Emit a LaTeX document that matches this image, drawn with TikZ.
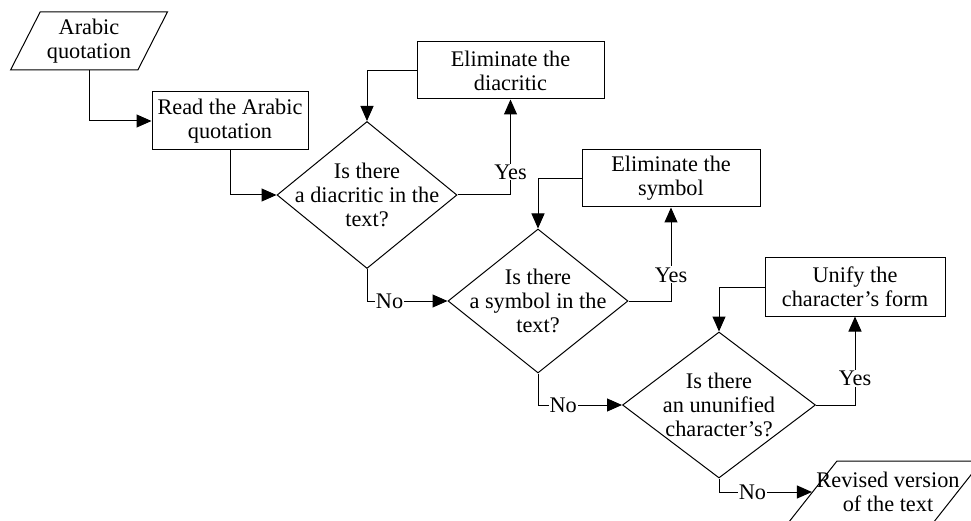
\documentclass[tikz,border=0pt]{standalone}
\usepackage{fontspec}
\setmainfont{Liberation Serif}
\usetikzlibrary{shapes.geometric,arrows.meta}

\tikzset{
  every node/.style={font=\fontsize{22.3}{24}\selectfont, align=center, inner sep=0pt},
  flow/.style={draw=black, line width=1pt, -{Triangle[length=15pt,width=13pt]}},
  procbox/.style={draw=black, line width=1pt, rectangle},
  decision/.style={draw=black, line width=1pt, diamond},
  iobox/.style={draw=black, line width=1pt, trapezium, trapezium stretches=true},
  edgelabel/.style={fill=white, inner sep=1pt}
}

\begin{document}
\begin{tikzpicture}[x=1pt, y=-1pt]
  \useasboundingbox (0,0) rectangle (971,521);
  \fill[white] (0,0) rectangle (971,521);
  \clip (0,0) rectangle (971,521);

  % input and processing steps
  \node[iobox, trapezium left angle=60, trapezium right angle=120,
        minimum width=157pt, minimum height=58pt] (in) at (89,41) {Arabic\\quotation};
  \node[procbox, minimum width=156pt, minimum height=58pt] (read) at (230,121) {Read the Arabic\\quotation};

  % first check: diacritics
  \node[decision, minimum width=180pt, minimum height=147pt] (d1) at (367,195) {};
  \node (t1) at (367,195) {Is there\\a diacritic in the\\text?};
  \node[procbox, minimum width=187pt, minimum height=57pt] (e1) at (510.5,70.5) {Eliminate the\\diacritic};

  % second check: symbols
  \node[decision, minimum width=180pt, minimum height=144pt] (d2) at (538,301) {};
  \node (t2) at (538,301) {Is there\\a symbol in the\\text?};
  \node[procbox, minimum width=178pt, minimum height=57pt] (e2) at (671,178.5) {Eliminate the\\symbol};

  % third check: character forms
  \node[decision, minimum width=193pt, minimum height=146pt] (d3) at (719,405) {};
  \node (t3) at (719,405) {Is there\\an ununified\\character's?};
  \node[procbox, minimum width=180pt, minimum height=58pt] (u) at (855,287) {Unify the\\character's form};

  % output (outline and text set separately so the outline keeps its size)
  \node[iobox, trapezium left angle=61, trapezium right angle=119,
        minimum width=194pt, minimum height=62pt] (out) at (885,492) {\phantom{x}};
  \node (tout) at (888,492) {Revised version\\of the text};

  % connectors
  \draw[flow] (in.south) |- (read.west);
  \draw[flow] (read.south) |- (d1.west);

  \draw[flow] (d1.east) -| node[edgelabel, pos=0.62] (y1) {Yes} (e1.south);
  \draw[flow] (e1.west) -| (d1.north);
  \draw[flow] (d1.south) |- node[edgelabel, pos=0.64] (n1) {No} (d2.west);

  \draw[flow] (d2.east) -| node[edgelabel, pos=0.64] (y2) {Yes} (e2.south);
  \draw[flow] (e2.west) -| (d2.north);
  \draw[flow] (d2.south) |- node[edgelabel, pos=0.65] (n2) {No} (d3.west);

  \draw[flow] (d3.east) -| node[edgelabel, pos=0.65] (y3) {Yes} (u.south);
  \draw[flow] (u.west) -| (d3.north);
  \draw[flow] (d3.south) |- node[edgelabel, pos=0.68] (n3) {No} (out);
\end{tikzpicture}
\end{document}
